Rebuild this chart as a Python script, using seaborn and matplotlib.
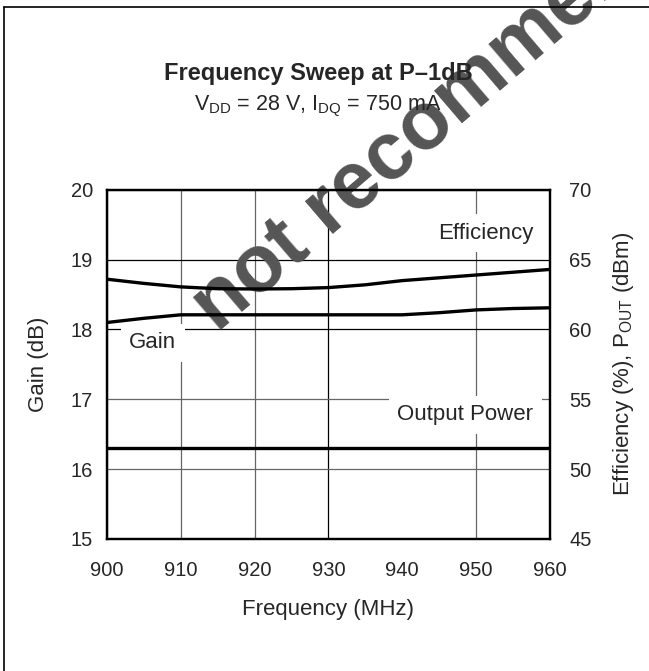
"""Frequency sweep at P-1dB: gain, efficiency and output power."""

import matplotlib.pyplot as plt
import pandas as pd
import seaborn as sns
from matplotlib.lines import Line2D

freq_mhz = [900, 905, 910, 915, 920, 925, 930, 935, 940, 945, 950, 955, 960]
gain_db = [18.10, 18.16, 18.21, 18.21, 18.21, 18.21, 18.21, 18.21, 18.21, 18.24, 18.28, 18.30, 18.31]
efficiency_pct = [63.6, 63.3, 63.05, 62.92, 62.9, 62.92, 63.0, 63.2, 63.5, 63.7, 63.9, 64.1, 64.3]
pout_dbm = [51.5] * len(freq_mhz)

x_ticks = [900, 910, 920, 930, 940, 950, 960]
gain_ticks = [15, 16, 17, 18, 19, 20]
right_ticks = [45, 50, 55, 60, 65, 70]

sns.set_style('white')
plt.rcParams['font.family'] = ['Liberation Sans', 'DejaVu Sans']
plt.rcParams['mathtext.fontset'] = 'custom'
plt.rcParams['mathtext.rm'] = 'Liberation Sans'
plt.rcParams['mathtext.it'] = 'Liberation Sans:italic'
plt.rcParams['mathtext.bf'] = 'Liberation Sans:bold'

df = pd.DataFrame({'freq': freq_mhz, 'gain': gain_db,
                   'eff': efficiency_pct, 'pout': pout_dbm})

fig = plt.figure(figsize=(6.49, 6.71), dpi=100)
ax = fig.add_axes([0.165, 0.197, 0.682, 0.520])
ax2 = ax.twinx()

fs_tick = 14.5
fs = 16

# grid, drawn only where the original has it
ax.set_xlim(900, 960)
ax.set_ylim(15, 20)
ax.set_xticks(x_ticks)
ax.set_yticks(gain_ticks)
ax.grid(True, linewidth=0.9)
for val, line in zip(x_ticks, ax.xaxis.get_gridlines()):
    line.set_color('black' if val == 930 else '#666666')
    if val == 940:
        line.set_visible(False)
for val, line in zip(gain_ticks, ax.yaxis.get_gridlines()):
    line.set_color('black' if val in (18, 19) else '#666666')
ax.set_axisbelow(True)

sns.lineplot(data=df, x='freq', y='gain', ax=ax, color='black', lw=2.4, zorder=3)
sns.lineplot(data=df, x='freq', y='eff', ax=ax2, color='black', lw=2.4, zorder=3)
sns.lineplot(data=df, x='freq', y='pout', ax=ax2, color='black', lw=2.4, zorder=3)

ax2.set_ylim(45, 70)
ax2.set_yticks(right_ticks)
ax2.grid(False)

for a in (ax, ax2):
    a.tick_params(length=0, labelsize=fs_tick, pad=12)
    for s in a.spines.values():
        s.set_color('black')
        s.set_linewidth(1.6)
ax.tick_params(axis='y', pad=10)
ax2.tick_params(axis='y', pad=14)
ax.tick_params(axis='x', pad=16)

ax.set_xlabel('Frequency (MHz)', fontsize=fs, labelpad=14)
ax.set_ylabel('Gain (dB)', fontsize=fs, labelpad=16)
ax2.set_ylabel(r'Efficiency (%), P$_{\mathrm{OUT}}$ (dBm)', fontsize=fs, labelpad=14)

box = dict(facecolor='white', edgecolor='none', pad=6)
ax.text(903.0, 17.81, 'Gain', fontsize=fs, va='center', ha='left', bbox=box, zorder=2.5)
ax.text(957.8, 19.38, 'Efficiency', fontsize=fs, va='center', ha='right', bbox=box, zorder=2.5)
ax.text(957.8, 16.78, 'Output Power', fontsize=fs, va='center', ha='right', bbox=box, zorder=2.5)

fig.text(0.49, 0.891, 'Frequency Sweep at P\u20131dB', fontsize=17,
         fontweight='bold', ha='center', va='center')
fig.text(0.49, 0.841, r'V$_{\mathrm{DD}}$ = 28 V, I$_{\mathrm{DQ}}$ = 750 mA',
         fontsize=15.5, ha='center', va='center')

# watermark, under the curves
ax.text(0.335, 0.503, 'not recommended', transform=fig.transFigure,
        fontsize=58, fontweight='bold', color='#555555', rotation=40.6,
        rotation_mode='anchor', ha='left', va='baseline', clip_on=False, zorder=2)

# page border (left and top only)
fig.add_artist(Line2D([0.0062, 0.0062], [0.0, 0.9896], color='black', lw=1.2))
fig.add_artist(Line2D([0.0062, 1.0], [0.9896, 0.9896], color='black', lw=1.2))

fig.savefig('out.png', dpi=100)
